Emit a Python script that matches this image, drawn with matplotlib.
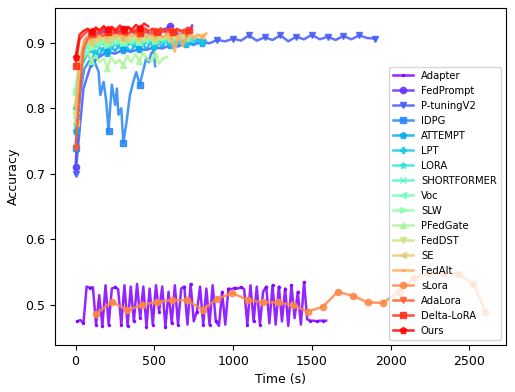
import numpy as np
import matplotlib
matplotlib.use("Agg")
import matplotlib.pyplot as plt

labels = ["Adapter", "FedPrompt", "P-tuningV2", "IDPG", "ATTEMPT", "LPT", "LORA",
          "SHORTFORMER", "Voc", "SLW", "PFedGate", "FedDST", "SE", "FedAlt",
          "sLora", "AdaLora", "Delta-LoRA", "Ours"]
markers = [".", "o", "v", "s", "p", "P", "*", "x", "<", ">", "^", "v", "<", ".",
           "o", "v", "s", "p"]

# ---- data (time start, time end, accuracy values at even steps) ----
adapter_t = (10, 1590)
adapter_y = [0.475, 0.477, 0.472, 0.528, 0.526, 0.527, 0.470, 0.515, 0.468, 0.530,
             0.470, 0.525, 0.527, 0.524, 0.470, 0.530, 0.468, 0.528, 0.475, 0.532,
             0.480, 0.528, 0.467, 0.525, 0.470, 0.530, 0.490, 0.528, 0.466, 0.520,
             0.472, 0.530, 0.470, 0.525, 0.528, 0.470, 0.532, 0.475, 0.490, 0.528,
             0.470, 0.525, 0.470, 0.530, 0.475, 0.468, 0.520, 0.470, 0.525, 0.524,
             0.526, 0.525, 0.527, 0.524, 0.470, 0.530, 0.475, 0.528, 0.470, 0.520,
             0.528, 0.472, 0.530, 0.470, 0.528, 0.475, 0.525, 0.468, 0.530, 0.480,
             0.520, 0.470, 0.535, 0.478, 0.476, 0.476, 0.475, 0.476, 0.476, 0.476]

fedprompt_t = (0, 740)
fedprompt_y = [0.710, 0.800, 0.885, 0.905, 0.908, 0.912, 0.910, 0.915, 0.912, 0.918,
               0.914, 0.916, 0.913, 0.918, 0.915, 0.920, 0.916, 0.914, 0.918, 0.915,
               0.919, 0.914, 0.917, 0.915, 0.912, 0.916, 0.918, 0.914, 0.920, 0.922,
               0.925, 0.918, 0.915, 0.912, 0.915, 0.913, 0.916, 0.926]

ptuning_t = (0, 1900)
ptuning_y = [0.700, 0.830, 0.868, 0.878, 0.886, 0.883, 0.889, 0.886, 0.890, 0.889,
             0.893, 0.891, 0.896, 0.894, 0.899, 0.897, 0.901, 0.899, 0.904, 0.902,
             0.906, 0.903, 0.911, 0.903, 0.908, 0.904, 0.911, 0.902, 0.909, 0.905,
             0.912, 0.905, 0.909, 0.904, 0.910, 0.905, 0.911, 0.907, 0.906]

idpg_x = [0, 15, 31, 55, 84, 115, 135, 146, 157, 178, 195, 209, 230, 251, 262, 272,
          290, 303, 324, 345, 366, 385, 407, 428, 449, 465, 480, 495, 505]
idpg_y = [0.740, 0.790, 0.826, 0.860, 0.871, 0.875, 0.862, 0.856, 0.820, 0.840,
          0.810, 0.765, 0.836, 0.805, 0.830, 0.790, 0.800, 0.747, 0.780, 0.820,
          0.840, 0.855, 0.836, 0.856, 0.877, 0.870, 0.884, 0.888, 0.864]

attempt_t = (0, 825)
attempt_y = [0.765, 0.855, 0.878, 0.885, 0.870, 0.888, 0.880, 0.892, 0.884, 0.894,
             0.887, 0.896, 0.889, 0.893, 0.886, 0.897, 0.891, 0.898, 0.890, 0.901,
             0.895, 0.900, 0.893, 0.903, 0.897, 0.902, 0.895, 0.904, 0.898, 0.903,
             0.896, 0.905, 0.900, 0.903]

lpt_t = (0, 800)
lpt_y = [0.800, 0.862, 0.870, 0.883, 0.890, 0.878, 0.893, 0.887, 0.896, 0.889,
         0.898, 0.892, 0.900, 0.895, 0.899, 0.893, 0.902, 0.896, 0.900, 0.904,
         0.897, 0.903, 0.899, 0.905, 0.900, 0.906, 0.901, 0.904, 0.899, 0.906,
         0.902, 0.905, 0.903]

lora_t = (0, 760)
lora_y = [0.775, 0.850, 0.885, 0.895, 0.900, 0.893, 0.902, 0.897, 0.904, 0.899,
          0.905, 0.900, 0.907, 0.901, 0.905, 0.898, 0.906, 0.902, 0.908, 0.903,
          0.906, 0.900, 0.908, 0.904, 0.907, 0.902, 0.909, 0.905, 0.907, 0.904,
          0.908]

shortformer_t = (0, 720)
shortformer_y = [0.790, 0.860, 0.888, 0.896, 0.893, 0.899, 0.895, 0.900, 0.897, 0.902,
                 0.898, 0.903, 0.899, 0.904, 0.900, 0.905, 0.901, 0.904, 0.900, 0.906,
                 0.902, 0.905, 0.901, 0.906, 0.903, 0.907, 0.904, 0.906, 0.905]

voc_t = (0, 700)
voc_y = [0.830, 0.875, 0.893, 0.900, 0.896, 0.903, 0.898, 0.904, 0.900, 0.906,
         0.901, 0.905, 0.899, 0.907, 0.902, 0.906, 0.900, 0.908, 0.903, 0.907,
         0.902, 0.908, 0.904, 0.907, 0.905, 0.909, 0.906, 0.908, 0.907]

slw_t = (0, 680)
slw_y = [0.825, 0.870, 0.890, 0.897, 0.892, 0.900, 0.895, 0.902, 0.897, 0.903,
         0.898, 0.904, 0.900, 0.905, 0.899, 0.906, 0.901, 0.905, 0.902, 0.907,
         0.903, 0.906, 0.904, 0.908, 0.905, 0.907, 0.906, 0.908]

pfedgate_t = (0, 580)
pfedgate_y = [0.810, 0.860, 0.878, 0.885, 0.872, 0.880, 0.870, 0.876, 0.862, 0.878,
              0.868, 0.874, 0.866, 0.880, 0.870, 0.883, 0.872, 0.885, 0.875, 0.871,
              0.882, 0.868, 0.876, 0.878]

feddst_t = (0, 700)
feddst_y = [0.790, 0.860, 0.895, 0.903, 0.898, 0.906, 0.900, 0.908, 0.902, 0.909,
            0.903, 0.910, 0.904, 0.908, 0.902, 0.910, 0.905, 0.909, 0.903, 0.911,
            0.906, 0.910, 0.904, 0.911, 0.907, 0.910, 0.906, 0.912, 0.908]

se_t = (0, 820)
se_y = [0.778, 0.850, 0.900, 0.905, 0.900, 0.908, 0.903, 0.910, 0.904, 0.911,
        0.906, 0.912, 0.905, 0.910, 0.907, 0.913, 0.906, 0.911, 0.908, 0.912,
        0.905, 0.913, 0.909, 0.911, 0.906, 0.912, 0.908, 0.913, 0.907, 0.910,
        0.909, 0.912, 0.910, 0.911]

fedalt_t = (0, 830)
fedalt_y = [0.800, 0.870, 0.900, 0.910, 0.905, 0.912, 0.907, 0.913, 0.908, 0.914,
            0.909, 0.912, 0.906, 0.914, 0.910, 0.913, 0.908, 0.915, 0.910, 0.913,
            0.909, 0.914, 0.908, 0.912, 0.910, 0.886, 0.912, 0.894, 0.910, 0.914,
            0.906, 0.912, 0.909, 0.914]

slora_x = [130, 230, 328, 422, 518, 613, 708, 807, 898, 993, 1092, 1187, 1282, 1377,
           1472, 1568, 1663, 1758, 1855, 1951, 2050, 2145, 2240, 2335, 2430, 2525, 2600]
slora_y = [0.486, 0.505, 0.492, 0.500, 0.505, 0.507, 0.507, 0.493, 0.509, 0.518,
           0.508, 0.504, 0.504, 0.500, 0.490, 0.497, 0.520, 0.514, 0.504, 0.503,
           0.520, 0.541, 0.548, 0.549, 0.547, 0.532, 0.490]

adalora_t = (0, 700)
adalora_y = [0.740, 0.820, 0.890, 0.905, 0.912, 0.908, 0.915, 0.910, 0.917, 0.912,
             0.918, 0.913, 0.916, 0.911, 0.918, 0.914, 0.917, 0.912, 0.919, 0.914,
             0.917, 0.913, 0.918, 0.915, 0.917, 0.914, 0.919, 0.916, 0.915]

deltalora_t = (0, 720)
deltalora_y = [0.865, 0.905, 0.912, 0.918, 0.914, 0.920, 0.915, 0.922, 0.916, 0.920,
               0.914, 0.921, 0.917, 0.923, 0.916, 0.920, 0.915, 0.922, 0.918, 0.921,
               0.916, 0.922, 0.917, 0.920, 0.916, 0.921, 0.918, 0.920, 0.919]

ours_t = (0, 460)
ours_y = [0.878, 0.912, 0.918, 0.921, 0.917, 0.923, 0.919, 0.925, 0.920, 0.924,
          0.919, 0.926, 0.921, 0.924, 0.920, 0.927, 0.922, 0.929, 0.925]


def grid(span, vals):
    return np.linspace(span[0], span[1], len(vals))


series = [
    (grid(adapter_t, adapter_y), adapter_y, 2),
    (grid(fedprompt_t, fedprompt_y), fedprompt_y, 5),
    (grid(ptuning_t, ptuning_y), ptuning_y, 2),
    (np.array(idpg_x), idpg_y, [0, 11, 17, 22]),
    (grid(attempt_t, attempt_y), attempt_y, 4),
    (grid(lpt_t, lpt_y), lpt_y, 4),
    (grid(lora_t, lora_y), lora_y, 4),
    (grid(shortformer_t, shortformer_y), shortformer_y, 4),
    (grid(voc_t, voc_y), voc_y, 4),
    (grid(slw_t, slw_y), slw_y, 4),
    (grid(pfedgate_t, pfedgate_y), pfedgate_y, 4),
    (grid(feddst_t, feddst_y), feddst_y, 4),
    (grid(se_t, se_y), se_y, 4),
    (grid(fedalt_t, fedalt_y), fedalt_y, 4),
    (np.array(slora_x), slora_y, 1),
    (grid(adalora_t, adalora_y), adalora_y, 4),
    (grid(deltalora_t, deltalora_y), deltalora_y, 4),
    (grid(ours_t, ours_y), ours_y, 4),
]

colors = plt.cm.rainbow(np.linspace(0, 1, len(labels)))

fig = plt.figure(figsize=(5.15, 3.92), dpi=100)
ax = fig.add_axes([0.107, 0.12, 0.875, 0.86])

for i, (x, y, me) in enumerate(series):
    ms = 3 if markers[i] == "." else 4.5
    ax.plot(x, y, color=colors[i], marker=markers[i], markersize=ms,
            markevery=me, linewidth=1.8, alpha=0.85, label=labels[i])

ax.set_xlim(-130, 2730)
ax.set_ylim(0.439, 0.953)
ax.set_xticks([0, 500, 1000, 1500, 2000, 2500])
ax.set_yticks([0.5, 0.6, 0.7, 0.8, 0.9])
ax.tick_params(labelsize=9)
ax.set_xlabel("Time (s)", fontsize=9)
ax.set_ylabel("Accuracy", fontsize=9)
ax.legend(loc="lower right", fontsize=7.2)

fig.savefig("out.png", dpi=100)
